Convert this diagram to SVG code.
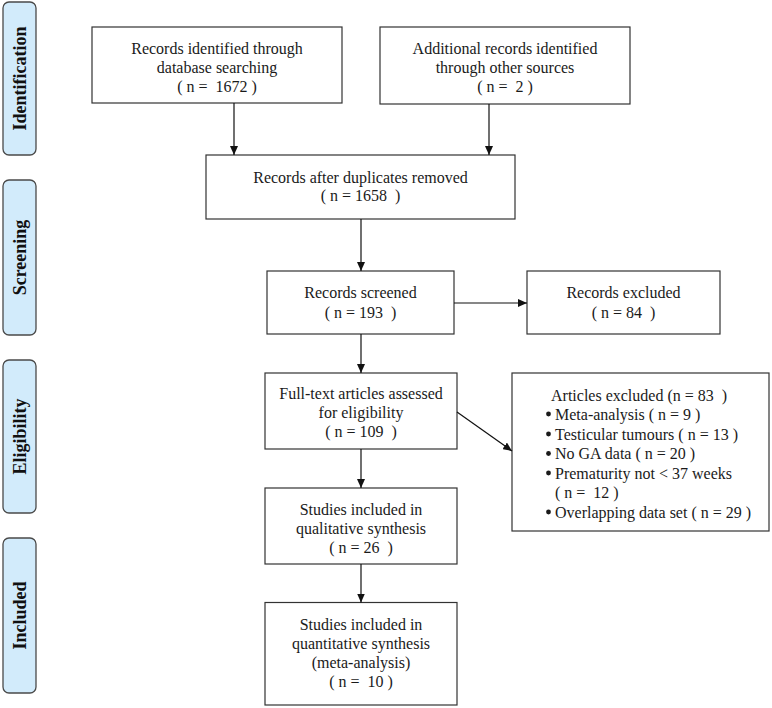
<svg xmlns="http://www.w3.org/2000/svg" width="772" height="708" viewBox="0 0 772 708">
<style>
.bg{fill:#ffffff}
.phase rect{fill:#d2ebfb;stroke:#4a4a4a;stroke-width:1.3}
.phase text{font-family:"Liberation Serif","Times New Roman",serif;font-size:18px;font-weight:bold;fill:#111;text-anchor:middle}
.box rect{fill:#ffffff;stroke:#333;stroke-width:1.2}
.box text{font-family:"Liberation Serif","Times New Roman",serif;font-size:16px;fill:#1a1a1a;text-anchor:middle;white-space:pre}
.box text.l{text-anchor:start}
.box circle{fill:#1a1a1a}
.conn line{stroke:#111;stroke-width:1.2;fill:none}
</style>
<defs>
<marker id="ah" markerWidth="9" markerHeight="8" refX="9" refY="4" orient="auto" markerUnits="userSpaceOnUse">
<path d="M0,0 L9,4 L0,8 z" fill="#111"/>
</marker>
</defs>
<rect class="bg" x="0" y="0" width="772" height="708"/>

<g id="phase-identification" class="phase">
<rect x="3" y="2" width="33" height="153" rx="6"/>
<text transform="translate(26,78.5) rotate(-90)">Identification</text>
</g>
<g id="phase-screening" class="phase">
<rect x="3" y="180" width="33" height="155" rx="6"/>
<text transform="translate(26,257.5) rotate(-90)">Screening</text>
</g>
<g id="phase-eligibility" class="phase">
<rect x="3" y="360" width="33" height="153" rx="6"/>
<text transform="translate(26,436.5) rotate(-90)">Eligibility</text>
</g>
<g id="phase-included" class="phase">
<rect x="3" y="538" width="33" height="155" rx="6"/>
<text transform="translate(26,615.5) rotate(-90)">Included</text>
</g>

<g id="box-database" class="box">
<rect x="92" y="27" width="250" height="76"/>
<text x="217" y="53.5">Records identified through</text>
<text x="217" y="72.5">database searching</text>
<text x="217" y="92">( n =  1672 )</text>
</g>
<g id="box-other" class="box">
<rect x="380" y="27" width="250" height="77"/>
<text x="505" y="53.5">Additional records identified</text>
<text x="505" y="72.5">through other sources</text>
<text x="505" y="92">( n =  2 )</text>
</g>
<g id="box-duplicates" class="box">
<rect x="206" y="155" width="309" height="64"/>
<text x="360.5" y="182.5">Records after duplicates removed</text>
<text x="360.5" y="201">( n = 1658  )</text>
</g>
<g id="box-screened" class="box">
<rect x="267" y="271" width="187" height="63"/>
<text x="360.5" y="297.5">Records screened</text>
<text x="360.5" y="318">( n = 193  )</text>
</g>
<g id="box-excluded" class="box">
<rect x="527" y="271" width="193" height="63"/>
<text x="623.5" y="297.5">Records excluded</text>
<text x="623.5" y="318">( n = 84  )</text>
</g>
<g id="box-fulltext" class="box">
<rect x="265" y="373" width="192" height="76"/>
<text x="361" y="398.5">Full-text articles assessed</text>
<text x="361" y="417.5">for eligibility</text>
<text x="361" y="437">( n = 109  )</text>
</g>
<g id="box-articles-excluded" class="box">
<rect x="512" y="373" width="257" height="158"/>
<text class="l" x="551" y="400.5">Articles excluded (n = 83  )</text>
<circle cx="548.5" cy="414" r="2.4"/>
<text class="l" x="555" y="419.5">Meta-analysis ( n = 9 )</text>
<circle cx="548.5" cy="434" r="2.4"/>
<text class="l" x="555" y="439.5">Testicular tumours ( n = 13 )</text>
<circle cx="548.5" cy="453.5" r="2.4"/>
<text class="l" x="555" y="459">No GA data ( n = 20 )</text>
<circle cx="548.5" cy="473" r="2.4"/>
<text class="l" x="555" y="478.5">Prematurity not &lt; 37 weeks</text>
<text class="l" x="555" y="497.5">( n =  12 )</text>
<circle cx="548.5" cy="512" r="2.4"/>
<text class="l" x="555" y="517.5">Overlapping data set ( n = 29 )</text>
</g>
<g id="box-qualitative" class="box">
<rect x="265" y="488" width="192" height="76"/>
<text x="361" y="514.5">Studies included in</text>
<text x="361" y="533.5">qualitative synthesis</text>
<text x="361" y="553">( n = 26  )</text>
</g>
<g id="box-quantitative" class="box">
<rect x="265" y="602.5" width="192" height="102.5"/>
<text x="361" y="629.5">Studies included in</text>
<text x="361" y="648.5">quantitative synthesis</text>
<text x="361" y="667.5">(meta-analysis)</text>
<text x="361" y="686.5">( n =  10 )</text>
</g>

<g id="connectors" class="conn">
<line x1="234" y1="103" x2="234" y2="155" marker-end="url(#ah)"/>
<line x1="489" y1="104" x2="489" y2="155" marker-end="url(#ah)"/>
<line x1="361" y1="219" x2="361" y2="271" marker-end="url(#ah)"/>
<line x1="454" y1="303" x2="527" y2="303" marker-end="url(#ah)"/>
<line x1="361" y1="334" x2="361" y2="373" marker-end="url(#ah)"/>
<line x1="457" y1="412" x2="512" y2="451" marker-end="url(#ah)"/>
<line x1="361" y1="449" x2="361" y2="488" marker-end="url(#ah)"/>
<line x1="361" y1="564" x2="361" y2="602.5" marker-end="url(#ah)"/>
</g>
</svg>
